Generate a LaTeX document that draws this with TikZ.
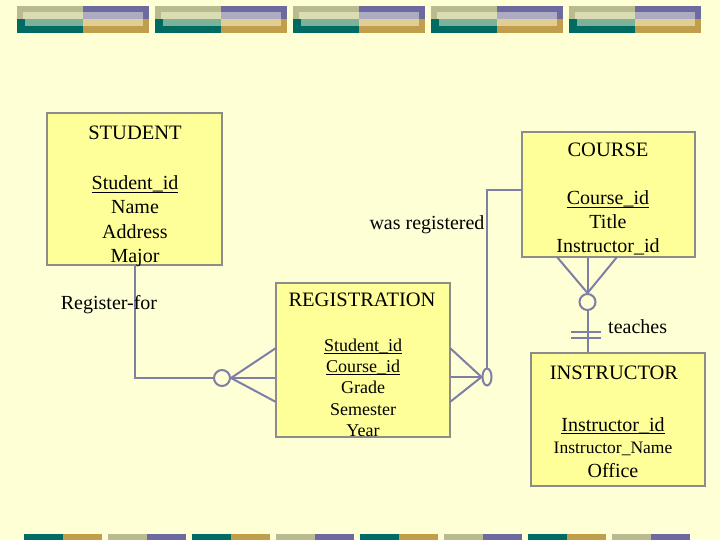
\documentclass[tikz,border=0pt]{standalone}
\usepackage{fontspec}
\setmainfont{Liberation Serif}
\usetikzlibrary{shapes.geometric}
\definecolor{bg}{RGB}{255,255,214}
\definecolor{boxfill}{RGB}{255,255,153}
\definecolor{boxline}{RGB}{140,140,140}
\definecolor{conn}{RGB}{126,126,166}
\definecolor{olive}{RGB}{185,186,142}
\definecolor{teal2}{RGB}{0,107,98}
\definecolor{purp}{RGB}{108,106,158}
\definecolor{gold}{RGB}{193,158,76}
\definecolor{lolive}{RGB}{218,221,178}
\definecolor{lteal}{RGB}{125,177,154}
\definecolor{lpurp}{RGB}{173,171,194}
\definecolor{lgold}{RGB}{224,206,149}
\newcommand{\myul}[1]{\setbox0\hbox{#1}\rlap{\rule[-3pt]{\wd0}{1.3pt}}\box0}
\tikzset{
  entity/.style={draw=boxline, line width=2.2pt, fill=boxfill, rectangle, inner sep=0pt},
  txt/.style={inner sep=0pt, anchor=base, font=\fontsize{20}{24}\selectfont},
  hdr/.style={inner sep=0pt, anchor=base, font=\fontsize{20.5}{24}\selectfont},
  small/.style={inner sep=0pt, anchor=base, font=\fontsize{18}{21}\selectfont},
  link/.style={draw=conn, line width=2pt},
  ring/.style={draw=conn, line width=2pt, fill=bg, circle, inner sep=0pt, minimum size=16pt},
}
\begin{document}
\begin{tikzpicture}[x=1pt,y=-1pt]
\useasboundingbox (0,0) rectangle (720,540);
\fill[bg] (0,0) rectangle (720,540);
% top decoration
\foreach \i in {0,...,4}{
  \pgfmathsetmacro{\xa}{17+138*\i}
  \begin{scope}[xshift=\xa pt]
    \fill[olive] (0,6) rectangle (66,19.5);
    \fill[teal2] (0,19.5) rectangle (66,33);
    \fill[purp] (66,6) rectangle (132,19);
    \fill[gold] (66,19) rectangle (132,33);
    \fill[lolive] (6,11.7) rectangle (66,19.5);
    \fill[lteal] (8,19.5) rectangle (66,26);
    \fill[lpurp] (66,11.7) rectangle (126,19);
    \fill[lgold] (66,19) rectangle (126,26);
  \end{scope}
}
% bottom decoration
\foreach \i in {0,...,7}{
  \pgfmathsetmacro{\xb}{24+84*\i}
  \pgfmathtruncatemacro{\odd}{mod(\i,2)}
  \ifnum\odd=0
    \fill[teal2] (\xb,534) rectangle ++(39,6);
    \fill[gold] (\xb+39,534) rectangle ++(39,6);
  \else
    \fill[olive] (\xb,534) rectangle ++(39,6);
    \fill[purp] (\xb+39,534) rectangle ++(39,6);
  \fi
}
% entity boxes
\node[entity, minimum width=175pt, minimum height=152pt] (student) at (134.5,189) {};
\node[entity, minimum width=173pt, minimum height=125pt] (course) at (608.5,194.5) {};
\node[entity, minimum width=174pt, minimum height=154pt] (reg) at (363,360) {};
\node[entity, minimum width=174pt, minimum height=133pt] (instr) at (618,419.5) {};
% free-end coordinates
\coordinate (rL1) at (276,348);
\coordinate (rL2) at (276,402);
\coordinate (rR1) at (450,348);
\coordinate (rR2) at (450,402);
\coordinate (cj) at (522,190);
\coordinate (cb1) at (557,257);
\coordinate (cb2) at (617,257);
\coordinate (b1a) at (571,332);
\coordinate (b1b) at (601,332);
\coordinate (b2a) at (571,337.5);
\coordinate (b2b) at (601,337.5);
% rings
\node[ring] (cL) at (222,378) {};
\node[ring, ellipse, minimum width=9pt, minimum height=17pt] (cR) at (487,377) {};
\node[ring] (cT) at (587.5,302) {};
% connectors
\draw[link] (student.south) |- (cL.west);
\draw[link] (cL.east) -- (reg.west |- cL.east);
\draw[link] (rL1) -- (cL.east);
\draw[link] (rL2) -- (cL.east);
\draw[link] (reg.east |- cR.west) -- (cR.west);
\draw[link] (rR1) -- (cR.west);
\draw[link] (rR2) -- (cR.west);
\draw[link] (cR.north) |- (cj);
\draw[link] (course.south -| cT.north) -- (cT.north);
\draw[link] (cb1) -- (cT.north);
\draw[link] (cb2) -- (cT.north);
\draw[link] (cT.south) -- (instr.north -| cT.south);
\draw[link] (b1a) -- (b1b);
\draw[link] (b2a) -- (b2b);
% STUDENT texts
\node[hdr] (st0) at (135,140) {STUDENT};
\node[txt] (st1) at (135,190) {\myul{Student\_id}};
\node[txt] (st2) at (135,214) {Name};
\node[txt] (st3) at (135,238) {Address};
\node[txt] (st4) at (135,262) {Major};
\node[txt] (lbl1) at (109,309) {Register-for};
% COURSE texts
\node[hdr] (co0) at (608,156.5) {COURSE};
\node[txt] (co1) at (608,205) {\myul{Course\_id}};
\node[txt] (co2) at (608,228.5) {Title};
\node[txt] (co3) at (608,252.5) {Instructor\_id};
\node[txt] (lbl2) at (427,229.5) {was registered};
\node[txt, anchor=base west] (lbl3) at (608,333) {teaches};
% REGISTRATION texts
\node[hdr] (rg0) at (362,306) {REGISTRATION};
\node[small] (rg1) at (363,351) {\myul{Student\_id}};
\node[small] (rg2) at (363,372) {\myul{Course\_id}};
\node[small] (rg3) at (363,393) {Grade};
\node[small] (rg4) at (363,415) {Semester};
\node[small] (rg5) at (363,436) {Year};
% INSTRUCTOR texts
\node[hdr] (in0) at (614,379) {INSTRUCTOR};
\node[txt] (in1) at (613,431) {\myul{Instructor\_id}};
\node[inner sep=0pt, anchor=base, font=\fontsize{17.5}{21}\selectfont] (in2) at (613,453.5) {Instructor\_Name};
\node[txt] (in3) at (613,477) {Office};
\end{tikzpicture}
\end{document}
